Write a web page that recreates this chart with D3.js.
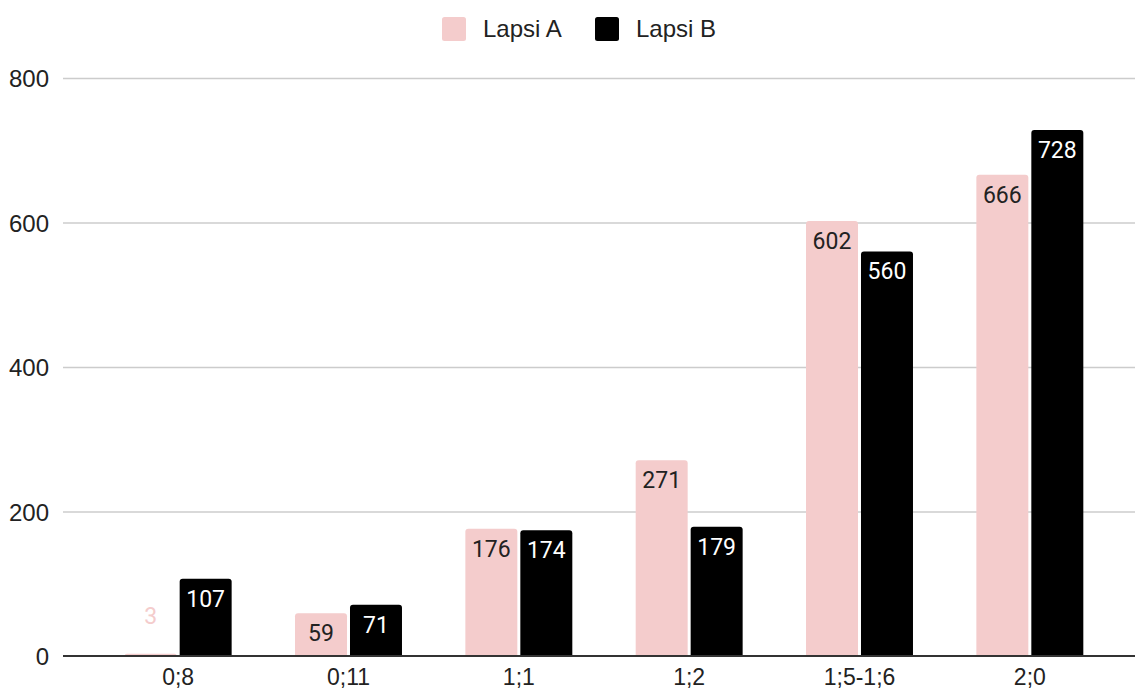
<!DOCTYPE html>
<html>
<head>
<meta charset="utf-8">
<script src="https://cdn.jsdelivr.net/npm/d3@7"></script>
<style>
  html, body { margin: 0; padding: 0; background: #fff; }
  svg { display: block; }
</style>
</head>
<body>
<svg id="chart" width="1135" height="691"></svg>
<script>
const categories = ["0;8", "0;11", "1;1", "1;2", "1;5-1;6", "2;0"];
const seriesNames = ["Lapsi A", "Lapsi B"];
const lapsiA = [3, 59, 176, 271, 602, 666];
const lapsiB = [107, 71, 174, 179, 560, 728];
const yTicks = [0, 200, 400, 600, 800];
const colors = ["#f4cccc", "#000000"];
const labelColorsInside = ["#222222", "#ffffff"];

const svg = d3.select("#chart");
const plotLeft = 63, plotRight = 1135;

const y = d3.scaleLinear().domain([0, 800]).range([656, 78]);
const x0 = d3.scaleBand().domain(categories).range([93, 1115])
  .paddingInner(0.372).paddingOuter(0.186);
const x1 = d3.scaleBand().domain(seriesNames).range([0, x0.bandwidth()])
  .paddingInner(0.0545).paddingOuter(0);

const tickFont = "'Liberation Sans', Arial, Helvetica, sans-serif";

// gridlines
const yAxis = d3.axisLeft(y).tickValues(yTicks).tickSize(-(plotRight - plotLeft)).tickFormat(d3.format("d"));
const gy = svg.append("g").attr("transform", `translate(${plotLeft},0)`).call(yAxis);
gy.select(".domain").remove();
gy.selectAll(".tick line").attr("stroke", "#cccccc").attr("stroke-width", 1.5);
gy.selectAll(".tick text")
  .attr("x", -14)
  .attr("dy", "0.36em")
  .attr("fill", "#222")
  .style("font-family", tickFont)
  .style("font-size", "24px");
gy.selectAll(".tick").filter(d => d === 0).select("line").remove();

// bars
const data = categories.map((c, i) => ({ cat: c, vals: [lapsiA[i], lapsiB[i]] }));
function roundTopRect(xp, yp, w, h, r) {
  r = Math.min(r, h, w / 2);
  return `M${xp},${yp + h}V${yp + r}Q${xp},${yp} ${xp + r},${yp}H${xp + w - r}Q${xp + w},${yp} ${xp + w},${yp + r}V${yp + h}Z`;
}
const groups = svg.append("g").selectAll("g").data(data).join("g")
  .attr("transform", d => `translate(${x0(d.cat)},0)`);

groups.each(function(d) {
  const g = d3.select(this);
  d.vals.forEach((v, si) => {
    const bx = x1(seriesNames[si]);
    const bw = x1.bandwidth();
    const top = y(v);
    const h = y(0) - top;
    g.append("path")
      .attr("d", roundTopRect(bx, top, bw, h, 3))
      .attr("fill", colors[si]);
    const inside = h >= 36;
    g.append("text")
      .attr("x", bx + bw / 2)
      .attr("y", inside ? top + 28 : top - 30)
      .attr("text-anchor", "middle")
      .attr("fill", inside ? labelColorsInside[si] : colors[si])
      .style("font-family", "Roboto, 'Noto Sans', sans-serif")
      .style("font-size", "23px")
      .text(v);
  });
});

// x axis
const xAxis = d3.axisBottom(x0).tickSize(0).tickPadding(0);
const gx = svg.append("g").attr("transform", `translate(0,${y(0)})`).call(xAxis);
gx.select(".domain").remove();
gx.selectAll(".tick text")
  .attr("y", 29)
  .attr("dy", 0)
  .attr("fill", "#222")
  .style("font-family", tickFont)
  .style("font-size", "23px");
svg.append("line")
  .attr("x1", plotLeft).attr("x2", plotRight)
  .attr("y1", y(0)).attr("y2", y(0))
  .attr("stroke", "#333").attr("stroke-width", 2);

// legend
const legendItems = [
  { name: seriesNames[0], color: colors[0], x: 442, tx: 483 },
  { name: seriesNames[1], color: colors[1], x: 595, tx: 636 }
];
const lg = svg.append("g");
legendItems.forEach(it => {
  lg.append("rect").attr("x", it.x).attr("y", 17).attr("width", 24).attr("height", 24)
    .attr("rx", 2.5).attr("fill", it.color);
  lg.append("text").attr("x", it.tx).attr("y", 37)
    .attr("fill", "#222")
    .style("font-family", tickFont)
    .style("font-size", "24px")
    .text(it.name);
});
</script>
</body>
</html>
